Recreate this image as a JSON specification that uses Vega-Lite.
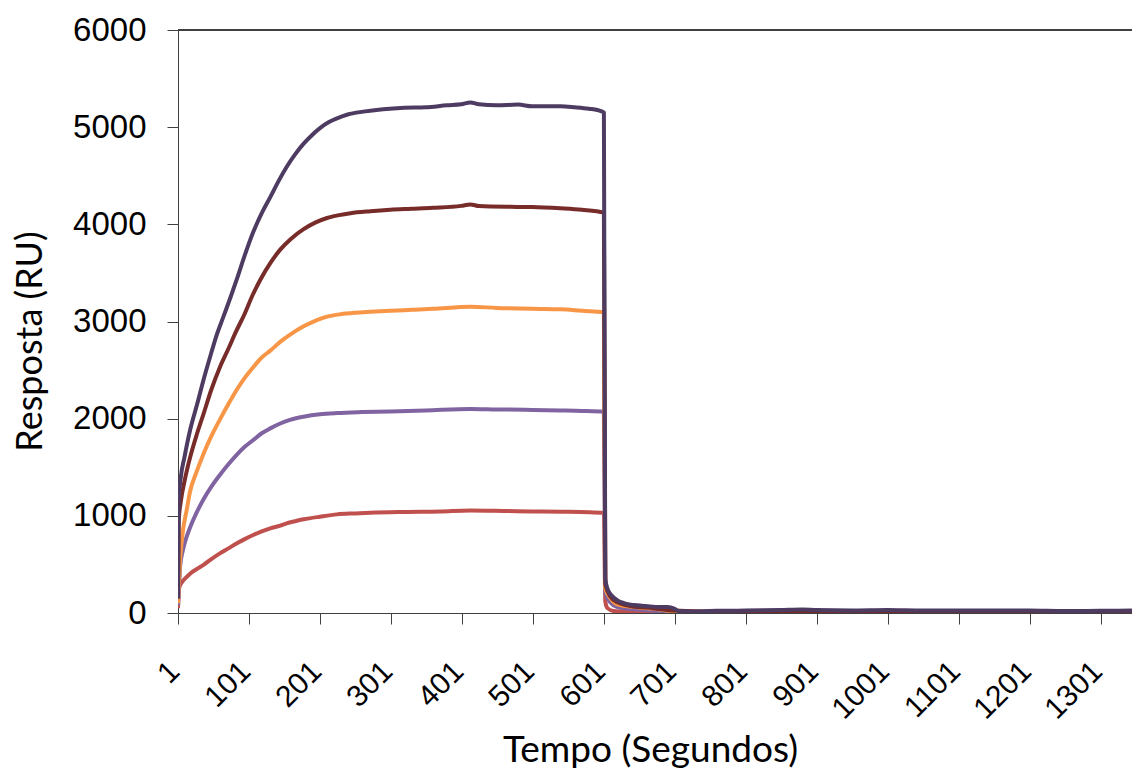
{
  "$schema": "https://vega.github.io/schema/vega-lite/v6.json",
  "width": 954,
  "height": 583,
  "autosize": {"type": "none"},
  "padding": {"left": 178, "top": 30, "right": 0, "bottom": 155},
  "background": "white",
  "config": {"view": {"stroke": null}},
  "data": {"values": [
    {"s":"s1","t":1,"v":50},{"s":"s1","t":3,"v":270},{"s":"s1","t":8,"v":330},{"s":"s1","t":13,"v":370},{"s":"s1","t":18,"v":405},{"s":"s1","t":27,"v":450},{"s":"s1","t":37,"v":495},{"s":"s1","t":48,"v":555},{"s":"s1","t":60,"v":614},{"s":"s1","t":72,"v":665},{"s":"s1","t":84,"v":717},{"s":"s1","t":95,"v":760},{"s":"s1","t":107,"v":803},{"s":"s1","t":119,"v":840},{"s":"s1","t":131,"v":871},{"s":"s1","t":145,"v":900},{"s":"s1","t":154,"v":923},{"s":"s1","t":166,"v":945},{"s":"s1","t":178,"v":964},{"s":"s1","t":201,"v":991},{"s":"s1","t":225,"v":1015},{"s":"s1","t":250,"v":1025},{"s":"s1","t":272,"v":1032},{"s":"s1","t":320,"v":1040},{"s":"s1","t":370,"v":1045},{"s":"s1","t":413,"v":1055},{"s":"s1","t":460,"v":1050},{"s":"s1","t":500,"v":1045},{"s":"s1","t":540,"v":1042},{"s":"s1","t":580,"v":1038},{"s":"s1","t":601,"v":1030},{"s":"s1","t":603,"v":120},{"s":"s1","t":606,"v":50},{"s":"s1","t":615,"v":20},{"s":"s1","t":640,"v":10},{"s":"s1","t":700,"v":0},{"s":"s1","t":1000,"v":0},{"s":"s1","t":1345,"v":0},
    {"s":"s2","t":1,"v":80},{"s":"s2","t":2,"v":200},{"s":"s2","t":4,"v":480},{"s":"s2","t":8,"v":650},{"s":"s2","t":13,"v":780},{"s":"s2","t":18,"v":880},{"s":"s2","t":27,"v":1030},{"s":"s2","t":37,"v":1170},{"s":"s2","t":48,"v":1300},{"s":"s2","t":60,"v":1420},{"s":"s2","t":72,"v":1530},{"s":"s2","t":84,"v":1630},{"s":"s2","t":95,"v":1710},{"s":"s2","t":107,"v":1780},{"s":"s2","t":119,"v":1850},{"s":"s2","t":131,"v":1900},{"s":"s2","t":145,"v":1950},{"s":"s2","t":160,"v":1990},{"s":"s2","t":178,"v":2020},{"s":"s2","t":201,"v":2045},{"s":"s2","t":225,"v":2058},{"s":"s2","t":260,"v":2068},{"s":"s2","t":300,"v":2075},{"s":"s2","t":350,"v":2085},{"s":"s2","t":413,"v":2100},{"s":"s2","t":450,"v":2095},{"s":"s2","t":500,"v":2090},{"s":"s2","t":540,"v":2085},{"s":"s2","t":570,"v":2080},{"s":"s2","t":601,"v":2070},{"s":"s2","t":603,"v":200},{"s":"s2","t":610,"v":110},{"s":"s2","t":620,"v":60},{"s":"s2","t":640,"v":40},{"s":"s2","t":670,"v":25},{"s":"s2","t":700,"v":10},{"s":"s2","t":800,"v":5},{"s":"s2","t":1000,"v":5},{"s":"s2","t":1345,"v":5},
    {"s":"s3","t":1,"v":100},{"s":"s3","t":2,"v":270},{"s":"s3","t":4,"v":550},{"s":"s3","t":8,"v":850},{"s":"s3","t":13,"v":1050},{"s":"s3","t":18,"v":1250},{"s":"s3","t":27,"v":1450},{"s":"s3","t":37,"v":1640},{"s":"s3","t":48,"v":1820},{"s":"s3","t":60,"v":1990},{"s":"s3","t":72,"v":2150},{"s":"s3","t":84,"v":2300},{"s":"s3","t":95,"v":2420},{"s":"s3","t":107,"v":2530},{"s":"s3","t":119,"v":2630},{"s":"s3","t":131,"v":2700},{"s":"s3","t":145,"v":2790},{"s":"s3","t":160,"v":2870},{"s":"s3","t":178,"v":2950},{"s":"s3","t":195,"v":3010},{"s":"s3","t":211,"v":3050},{"s":"s3","t":230,"v":3075},{"s":"s3","t":250,"v":3090},{"s":"s3","t":272,"v":3100},{"s":"s3","t":300,"v":3110},{"s":"s3","t":330,"v":3120},{"s":"s3","t":360,"v":3130},{"s":"s3","t":413,"v":3152},{"s":"s3","t":450,"v":3140},{"s":"s3","t":500,"v":3130},{"s":"s3","t":540,"v":3125},{"s":"s3","t":570,"v":3110},{"s":"s3","t":601,"v":3095},{"s":"s3","t":603,"v":250},{"s":"s3","t":610,"v":154},{"s":"s3","t":620,"v":90},{"s":"s3","t":640,"v":65},{"s":"s3","t":670,"v":45},{"s":"s3","t":700,"v":20},{"s":"s3","t":750,"v":10},{"s":"s3","t":850,"v":15},{"s":"s3","t":1000,"v":10},{"s":"s3","t":1200,"v":10},{"s":"s3","t":1345,"v":10},
    {"s":"s4","t":1,"v":150},{"s":"s4","t":2,"v":950},{"s":"s4","t":5,"v":1150},{"s":"s4","t":10,"v":1350},{"s":"s4","t":18,"v":1600},{"s":"s4","t":28,"v":1850},{"s":"s4","t":37,"v":2050},{"s":"s4","t":48,"v":2300},{"s":"s4","t":60,"v":2530},{"s":"s4","t":72,"v":2720},{"s":"s4","t":83,"v":2900},{"s":"s4","t":95,"v":3080},{"s":"s4","t":106,"v":3270},{"s":"s4","t":117,"v":3430},{"s":"s4","t":131,"v":3600},{"s":"s4","t":145,"v":3740},{"s":"s4","t":160,"v":3850},{"s":"s4","t":178,"v":3950},{"s":"s4","t":195,"v":4020},{"s":"s4","t":211,"v":4065},{"s":"s4","t":228,"v":4095},{"s":"s4","t":244,"v":4115},{"s":"s4","t":272,"v":4135},{"s":"s4","t":300,"v":4150},{"s":"s4","t":330,"v":4160},{"s":"s4","t":360,"v":4170},{"s":"s4","t":400,"v":4190},{"s":"s4","t":413,"v":4205},{"s":"s4","t":425,"v":4188},{"s":"s4","t":470,"v":4180},{"s":"s4","t":500,"v":4178},{"s":"s4","t":540,"v":4165},{"s":"s4","t":570,"v":4150},{"s":"s4","t":601,"v":4120},{"s":"s4","t":603,"v":300},{"s":"s4","t":610,"v":170},{"s":"s4","t":620,"v":110},{"s":"s4","t":640,"v":70},{"s":"s4","t":670,"v":50},{"s":"s4","t":700,"v":25},{"s":"s4","t":750,"v":15},{"s":"s4","t":850,"v":20},{"s":"s4","t":1000,"v":15},{"s":"s4","t":1200,"v":15},{"s":"s4","t":1345,"v":15},
    {"s":"s5","t":1,"v":150},{"s":"s5","t":2,"v":1150},{"s":"s5","t":5,"v":1400},{"s":"s5","t":10,"v":1600},{"s":"s5","t":18,"v":1880},{"s":"s5","t":28,"v":2150},{"s":"s5","t":37,"v":2400},{"s":"s5","t":46,"v":2630},{"s":"s5","t":55,"v":2850},{"s":"s5","t":65,"v":3050},{"s":"s5","t":75,"v":3250},{"s":"s5","t":85,"v":3460},{"s":"s5","t":95,"v":3680},{"s":"s5","t":107,"v":3920},{"s":"s5","t":120,"v":4130},{"s":"s5","t":131,"v":4280},{"s":"s5","t":143,"v":4450},{"s":"s5","t":154,"v":4590},{"s":"s5","t":166,"v":4720},{"s":"s5","t":178,"v":4830},{"s":"s5","t":190,"v":4920},{"s":"s5","t":201,"v":4990},{"s":"s5","t":213,"v":5050},{"s":"s5","t":225,"v":5090},{"s":"s5","t":240,"v":5130},{"s":"s5","t":262,"v":5160},{"s":"s5","t":290,"v":5185},{"s":"s5","t":320,"v":5200},{"s":"s5","t":350,"v":5205},{"s":"s5","t":380,"v":5225},{"s":"s5","t":400,"v":5235},{"s":"s5","t":413,"v":5255},{"s":"s5","t":425,"v":5235},{"s":"s5","t":450,"v":5225},{"s":"s5","t":480,"v":5232},{"s":"s5","t":500,"v":5215},{"s":"s5","t":540,"v":5215},{"s":"s5","t":560,"v":5205},{"s":"s5","t":580,"v":5190},{"s":"s5","t":595,"v":5170},{"s":"s5","t":601,"v":5150},{"s":"s5","t":603,"v":350},{"s":"s5","t":606,"v":250},{"s":"s5","t":612,"v":180},{"s":"s5","t":620,"v":130},{"s":"s5","t":630,"v":100},{"s":"s5","t":643,"v":82},{"s":"s5","t":660,"v":72},{"s":"s5","t":680,"v":62},{"s":"s5","t":691,"v":62},{"s":"s5","t":700,"v":45},{"s":"s5","t":706,"v":20},{"s":"s5","t":720,"v":15},{"s":"s5","t":760,"v":22},{"s":"s5","t":800,"v":25},{"s":"s5","t":850,"v":30},{"s":"s5","t":880,"v":35},{"s":"s5","t":900,"v":30},{"s":"s5","t":950,"v":25},{"s":"s5","t":1000,"v":30},{"s":"s5","t":1050,"v":25},{"s":"s5","t":1100,"v":25},{"s":"s5","t":1150,"v":25},{"s":"s5","t":1200,"v":25},{"s":"s5","t":1250,"v":20},{"s":"s5","t":1300,"v":22},{"s":"s5","t":1345,"v":25}
  ]},
  "layer": [
    {
      "mark": {"type": "line", "strokeWidth": 4, "clip": true, "strokeJoin": "round", "interpolate": "monotone"},
      "encoding": {
        "x": {"field": "t", "type": "quantitative",
          "scale": {"domain": [1, 1345], "nice": false, "zero": false},
          "axis": {"values": [1,101,201,301,401,501,601,701,801,901,1001,1101,1201,1301],
            "format": "d",
            "title": "Tempo (Segundos)", "grid": false, "tickSize": 11,
            "labelAngle": -45, "labelFontSize": 30, "labelFont": "Liberation Sans",
            "labelColor": "black", "labelPadding": 53, "labelOffset": 7, "labelBaseline": "bottom", "labelAlign": "right",
            "labelFlush": false, "labelOverlap": false,
            "domainColor": "#404040", "tickColor": "#404040",
            "titleFont": "Lato", "titleFontSize": 37, "titleFontWeight": "normal", "titleColor": "black",
            "titleY": 148, "titleBaseline": "alphabetic", "titleX": 472}},
        "y": {"field": "v", "type": "quantitative",
          "scale": {"domain": [0, 6000], "nice": false},
          "axis": {"values": [0,1000,2000,3000,4000,5000,6000],
            "format": "d",
            "title": "Resposta (RU)", "grid": false, "tickSize": 11,
            "labelFontSize": 33, "labelFont": "Liberation Sans", "labelColor": "black",
            "labelPadding": 21,
            "domainColor": "#404040", "tickColor": "#404040",
            "titleFont": "Lato", "titleFontSize": 36, "titleFontWeight": "normal", "titleColor": "black",
            "titleX": -148, "titleY": 311, "titleBaseline": "middle", "titleAngle": -90}},
        "color": {"field": "s", "type": "nominal",
          "scale": {"domain": ["s1","s2","s3","s4","s5"], "range": ["#C0504D","#8064A2","#F79646","#772C2A","#4D3B62"]},
          "legend": null}
      }
    },
    {
      "mark": {"type": "rule", "color": "#404040", "strokeWidth": 1.5},
      "encoding": {"y": {"datum": 6000, "type": "quantitative"}}
    }
  ]
}
